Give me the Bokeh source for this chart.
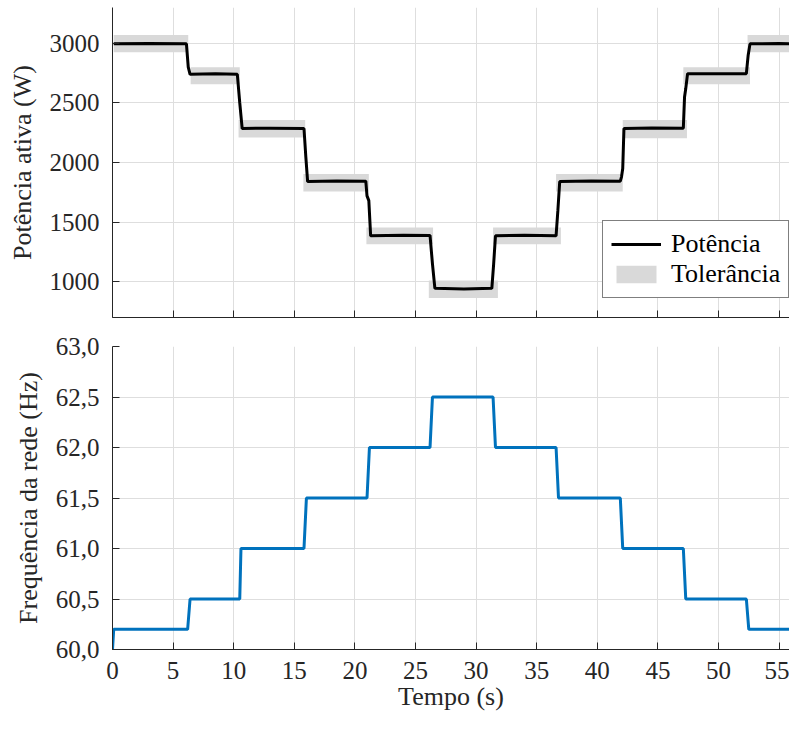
from bokeh.plotting import figure
from bokeh.layouts import column
from bokeh.models import Range1d, Legend, LegendItem, FixedTicker
from bokeh.embed import file_html
from bokeh.resources import INLINE

# ---------------- data ----------------
# active power (W) vs time (s)
pot_t = [0.1, 3.0, 6.1, 6.25, 6.4, 8.5, 10.3, 10.5, 10.7, 13.0, 15.8, 15.95, 16.1, 18.5,
         20.9, 21.0, 21.15, 21.3, 24.0, 26.2, 26.4, 26.6, 29.0, 31.3, 31.45, 31.6, 34.0,
         36.6, 36.75, 36.9, 39.5, 41.9, 42.0, 42.1, 42.2, 44.5, 47.1, 47.2, 47.3, 47.45,
         50.0, 52.3, 52.45, 52.6, 55.0, 57.2]
pot_w = [2995, 2998, 2995, 2800, 2740, 2745, 2740, 2500, 2285, 2288, 2285, 2050, 1840, 1845,
         1843, 1720, 1680, 1385, 1390, 1388, 1150, 945, 940, 945, 1150, 1385, 1390,
         1385, 1600, 1840, 1845, 1843, 1880, 1950, 2285, 2290, 2288, 2550, 2620, 2745,
         2745, 2745, 2900, 2995, 2998, 2995]

# tolerance bands (start, end, lower, upper)
tol_t0 = [0.1, 6.45, 10.4, 15.75, 20.95, 26.1, 31.4, 36.6, 42.1, 47.1, 52.4]
tol_t1 = [6.25, 10.5, 15.9, 21.15, 26.45, 31.8, 37.0, 42.1, 47.4, 52.6, 57.2]
tol_lo = [2925, 2656, 2209, 1756, 1315, 863, 1315, 1756, 2204, 2656, 2925]
tol_hi = [3070, 2799, 2357, 1904, 1454, 1010, 1454, 1904, 2357, 2799, 3070]

# grid frequency (Hz) vs time (s)
freq_t = [0.0, 0.1, 6.2, 6.4, 10.5, 10.6, 15.8, 16.0, 21.0, 21.2, 26.2, 26.4, 31.4, 31.6,
          36.6, 36.8, 41.9, 42.1, 47.1, 47.3, 52.3, 52.5, 57.2]
freq_hz = [60.0, 60.2, 60.2, 60.5, 60.5, 61.0, 61.0, 61.5, 61.5, 62.0, 62.0, 62.5, 62.5, 62.0,
           62.0, 61.5, 61.5, 61.0, 61.0, 60.5, 60.5, 60.2, 60.2]

x_ticks = [0, 5, 10, 15, 20, 25, 30, 35, 40, 45, 50, 55]
pot_ticks = [1000, 1500, 2000, 2500, 3000]
freq_ticks = [60.0, 60.5, 61.0, 61.5, 62.0, 62.5, 63.0]
freq_tick_labels = ["60,0", "60,5", "61,0", "61,5", "62,0", "62,5", "63,0"]

# ---------------- style ----------------
FONT = "Liberation Serif"
TICK_FONT = "Times New Roman"
AX = "#262626"
GRID = "#dedede"
TICK_FS = "25px"
LAB_FS = "26px"


def style(p):
    p.outline_line_color = None
    p.background_fill_color = "white"
    p.border_fill_color = "white"
    for ax in (p.xaxis[0], p.yaxis[0]):
        ax.axis_line_color = AX
        ax.axis_line_width = 1
        ax.major_tick_in = 7
        ax.major_tick_out = 0
        ax.major_tick_line_color = AX
        ax.major_tick_line_width = 1
        ax.minor_tick_line_color = None
        ax.major_label_text_font = TICK_FONT
        ax.major_label_text_font_size = TICK_FS
        ax.major_label_text_color = AX
        ax.axis_label_text_font = FONT
        ax.axis_label_text_font_size = LAB_FS
        ax.axis_label_text_font_style = "normal"
        ax.axis_label_text_color = AX
    p.xgrid.grid_line_color = GRID
    p.ygrid.grid_line_color = GRID


XMAX = 55.86

p1 = figure(width=789, height=332, x_range=Range1d(0, XMAX), y_range=Range1d(700, 3300),
            output_backend="svg", toolbar_location=None,
            min_border_left=112, min_border_right=0, min_border_top=7, min_border_bottom=15)
style(p1)
p1.xaxis.ticker = FixedTicker(ticks=x_ticks)
p1.yaxis.ticker = FixedTicker(ticks=pot_ticks)
# top panel: ticks only on its time axis, no labels
p1.xaxis.major_label_overrides = {t: "" for t in x_ticks}
p1.xaxis.major_label_text_font_size = "1px"
p1.xaxis.major_label_standoff = 0
p1.yaxis.major_label_standoff = 13
p1.yaxis.axis_label = "Potência ativa (W)"
p1.yaxis.axis_label_standoff = 10

band = p1.quad(left=tol_t0, right=tol_t1, bottom=tol_lo, top=tol_hi,
               fill_color="#d9d9d9", line_color=None)
pline = p1.line(pot_t, pot_w, line_color="black", line_width=3)

leg = Legend(items=[LegendItem(label="Potência", renderers=[pline]),
                    LegendItem(label="Tolerância", renderers=[band])],
             location=(490, 19))
leg.label_text_font = FONT
leg.label_text_font_size = LAB_FS
leg.label_text_color = "black"
leg.border_line_color = "black"
leg.border_line_width = 1
leg.background_fill_color = "white"
leg.background_fill_alpha = 1.0
leg.padding = 8
leg.spacing = 0
leg.margin = 0
leg.glyph_width = 50
leg.glyph_height = 22
leg.label_standoff = 10
leg.label_height = 28
p1.add_layout(leg)

p2 = figure(width=789, height=381, x_range=p1.x_range, y_range=Range1d(60, 63),
            output_backend="svg", toolbar_location=None,
            min_border_left=112, min_border_right=0, min_border_top=14, min_border_bottom=10)
style(p2)
p2.xaxis.ticker = FixedTicker(ticks=x_ticks)
p2.yaxis.ticker = FixedTicker(ticks=freq_ticks)
p2.yaxis.major_label_overrides = dict(zip(freq_ticks, freq_tick_labels))
p2.yaxis.major_label_standoff = 13
p2.xaxis.major_label_standoff = 12
p2.yaxis.axis_label = "Frequência da rede (Hz)"
p2.yaxis.axis_label_standoff = 10
p2.xaxis.axis_label = "Tempo (s)"
p2.xaxis.axis_label_standoff = 0

p2.line(freq_t, freq_hz, line_color="#0072BD", line_width=3)

layout = column(p1, p2, spacing=0)
open("out.html", "w").write(file_html(layout, INLINE))
